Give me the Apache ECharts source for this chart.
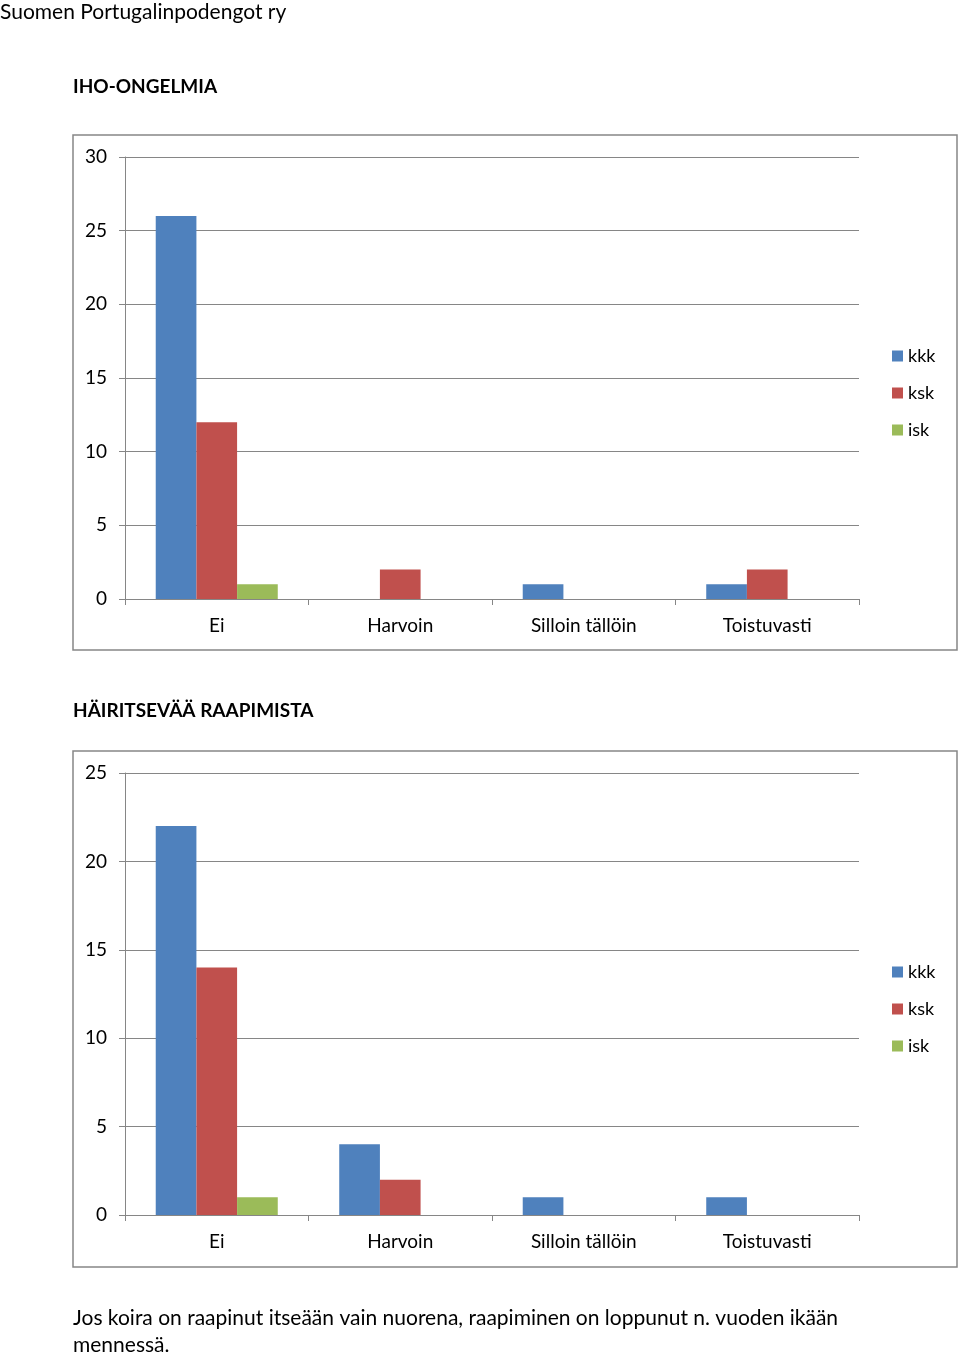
<!DOCTYPE html>
<html><head><meta charset="utf-8">
<script src="https://cdn.jsdelivr.net/npm/echarts@6/dist/echarts.min.js"></script>
<style>html,body{margin:0;padding:0;background:#fff}#c{width:960px;height:1357px}</style>
</head><body><div id="c"></div>
<script>
const categories = ['Ei', 'Harvoin', 'Silloin tällöin', 'Toistuvasti'];
const seriesNames = ['kkk', 'ksk', 'isk'];
const iho_kkk = [26, 0, 1, 1];
const iho_ksk = [12, 2, 0, 2];
const iho_isk = [1, 0, 0, 0];
const raap_kkk = [22, 4, 1, 1];
const raap_ksk = [14, 2, 0, 0];
const raap_isk = [1, 0, 0, 0];
const colors = ['#4F81BD', '#C0504D', '#9BBB59'];

const FONT = 'Lato';
const chart = echarts.init(document.getElementById('c'), null, {renderer: 'canvas'});
function xAx(gi) {
  return {type: 'category', gridIndex: gi, data: categories,
    axisLine: {lineStyle: {color: '#868686', width: 1}},
    axisTick: {show: true, length: 6, lineStyle: {color: '#868686'}},
    axisLabel: {color: '#000', fontFamily: FONT, fontSize: 19, margin: 17}};
}
function yAx(gi, max) {
  return {type: 'value', gridIndex: gi, min: 0, max: max, interval: 5,
    axisLine: {show: true, lineStyle: {color: '#868686', width: 1}},
    axisTick: {show: true, length: 6, lineStyle: {color: '#868686'}},
    splitLine: {lineStyle: {color: '#868686', width: 1}},
    axisLabel: {color: '#000', fontFamily: FONT, fontSize: 19, margin: 18}};
}
function bars(gi, arrs) {
  return arrs.map((d, i) => ({name: seriesNames[i], type: 'bar', xAxisIndex: gi, yAxisIndex: gi,
    data: d, barGap: '0%', barCategoryGap: '33.5%', itemStyle: {color: colors[i]}, animation: false}));
}
function legend(top) {
  return {orient: 'vertical', left: 892, top: top, itemWidth: 11, itemHeight: 11, itemGap: 19,
    icon: 'rect', data: seriesNames, selectedMode: false, padding: 0,
    textStyle: {fontFamily: FONT, fontSize: 18, color: '#000', lineHeight: 17}};
}
const txt = (x, y, t, size, weight) => ({type: 'text', left: x, top: y,
  style: {text: t, fontFamily: FONT, fontSize: size, fontWeight: weight || 'normal', fill: '#000'}});
chart.setOption({
  animation: false,
  grid: [
    {left: 125, width: 734, top: 157, height: 442},
    {left: 125, width: 734, top: 773, height: 442}
  ],
  xAxis: [xAx(0), xAx(1)],
  yAxis: [yAx(0, 30), yAx(1, 25)],
  legend: [legend(347), legend(963)],
  series: [...bars(0, [iho_kkk, iho_ksk, iho_isk]), ...bars(1, [raap_kkk, raap_ksk, raap_isk])],
  graphic: [
    {type: 'rect', shape: {x: 73, y: 135, width: 884, height: 515}, style: {fill: 'none', stroke: '#868686', lineWidth: 1.5}, z: -1},
    {type: 'rect', shape: {x: 73, y: 751, width: 884, height: 516}, style: {fill: 'none', stroke: '#868686', lineWidth: 1.5}, z: -1},
    txt(0, 2, 'Suomen Portugalinpodengot ry', 21),
    txt(73, 77, 'IHO-ONGELMIA', 19, 'bold'),
    txt(73, 701, 'HÄIRITSEVÄÄ RAAPIMISTA', 19, 'bold'),
    txt(73, 1308, 'Jos koira on raapinut itseään vain nuorena, raapiminen on loppunut n. vuoden ikään', 21),
    txt(73, 1335, 'mennessä.', 21)
  ]
});
</script></body></html>
